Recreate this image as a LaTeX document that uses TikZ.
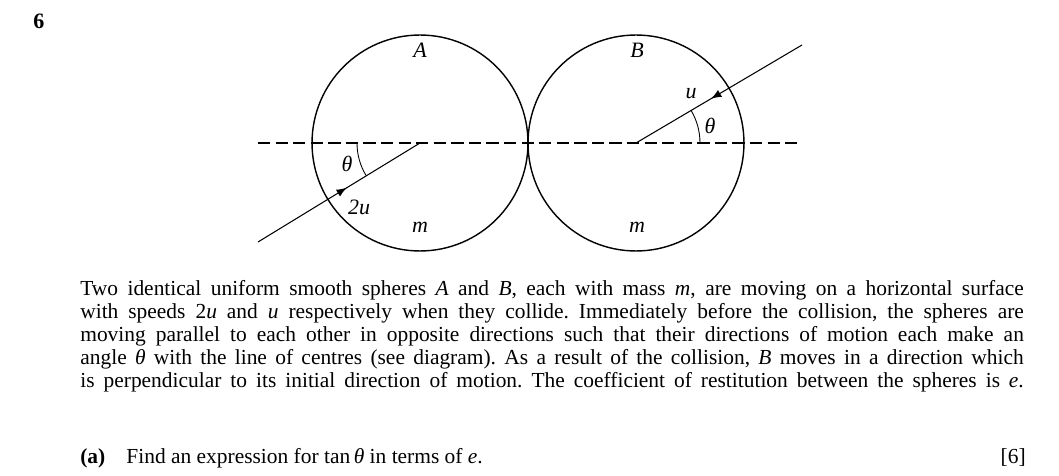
\documentclass[tikz,border=0pt]{standalone}
\usepackage{fontspec}
\setmainfont{Liberation Serif}
\usetikzlibrary{arrows,decorations.markings}
\newcommand{\fline}[1]{\makebox[537pt][s]{#1}}

\begin{document}
\frenchspacing
\begin{tikzpicture}[x=0.02cm,y=-0.02cm,
  sphere/.style={circle,draw,line width=0.8pt,minimum size=4.32cm,inner sep=0},
  lbl/.style={font=\fontsize{12.5}{14}\selectfont\itshape},
  para/.style={anchor=base west,inner sep=0,font=\fontsize{12.2}{14}\selectfont},
  mid arrow/.style={decoration={markings,
    mark=at position #1 with {\arrow[scale=1.3]{latex}};},postaction={decorate}}]
\useasboundingbox (0,0) rectangle (1059,476);
  \node[anchor=base west,inner sep=0,font=\fontsize{12.5}{14}\selectfont\bfseries] (num) at (33,29) {6};
  % spheres
  \node[sphere] (sA) at (420,143) {};
  \node[sphere] (sB) at (636,143) {};
  \coordinate (cA) at (420,143);
  \coordinate (cB) at (636,143);
  \coordinate (dL) at (258,143);
  \coordinate (dR) at (800,143);
  \coordinate (pA) at (258,242);
  \coordinate (pB) at (802,45);
  \draw[line width=0.6pt,dash pattern=on 7pt off 3pt] (dL) -- (dR);
  \draw[line width=0.6pt,mid arrow=0.55] (pA) -- (cA);
  \draw[line width=0.6pt,mid arrow=0.55] (pB) -- (cB);
  \draw[line width=0.5pt] (357,143) arc[start angle=180,end angle=149,radius=63];
  \draw[line width=0.5pt] (700,143) arc[start angle=0,end angle=-31,radius=64];
  \node[lbl] (lA) at (420,50) {A};
  \node[lbl] (lB) at (637,50) {B};
  \node[lbl] (mA) at (420,227) {m};
  \node[lbl] (mB) at (637,227) {m};
  \node[lbl] (tA) at (347,164) {θ};
  \node[lbl] (vA) at (359,207) {2u};
  \node[lbl] (vB) at (691,94) {u};
  \node[lbl] (tB) at (710,126) {θ};
  % question text
  \node[para] (t1) at (80,296) {\fline{Two identical uniform smooth spheres \textit{A} and \textit{B}, each with mass \textit{m}, are moving on a horizontal surface}};
  \node[para] (t2) at (80,319) {\fline{with speeds 2\textit{u} and \textit{u} respectively when they collide. Immediately before the collision, the spheres are}};
  \node[para] (t3) at (80,342) {\fline{moving parallel to each other in opposite directions such that their directions of motion each make an}};
  \node[para] (t4) at (80,365) {\fline{angle \textit{θ} with the line of centres (see diagram). As a result of the collision, \textit{B} moves in a direction which}};
  \node[para] (t5) at (80,388) {\fline{is perpendicular to its initial direction of motion. The coefficient of restitution between the spheres is \textit{e}.}};
  \node[para] (qa) at (80,463) {\textbf{(a)}\hspace{12pt}Find an expression for tan\,\textit{θ} in terms of \textit{e}.};
  \node[para,anchor=base east] (mk) at (1026,463) {[6]};
\end{tikzpicture}
\end{document}
